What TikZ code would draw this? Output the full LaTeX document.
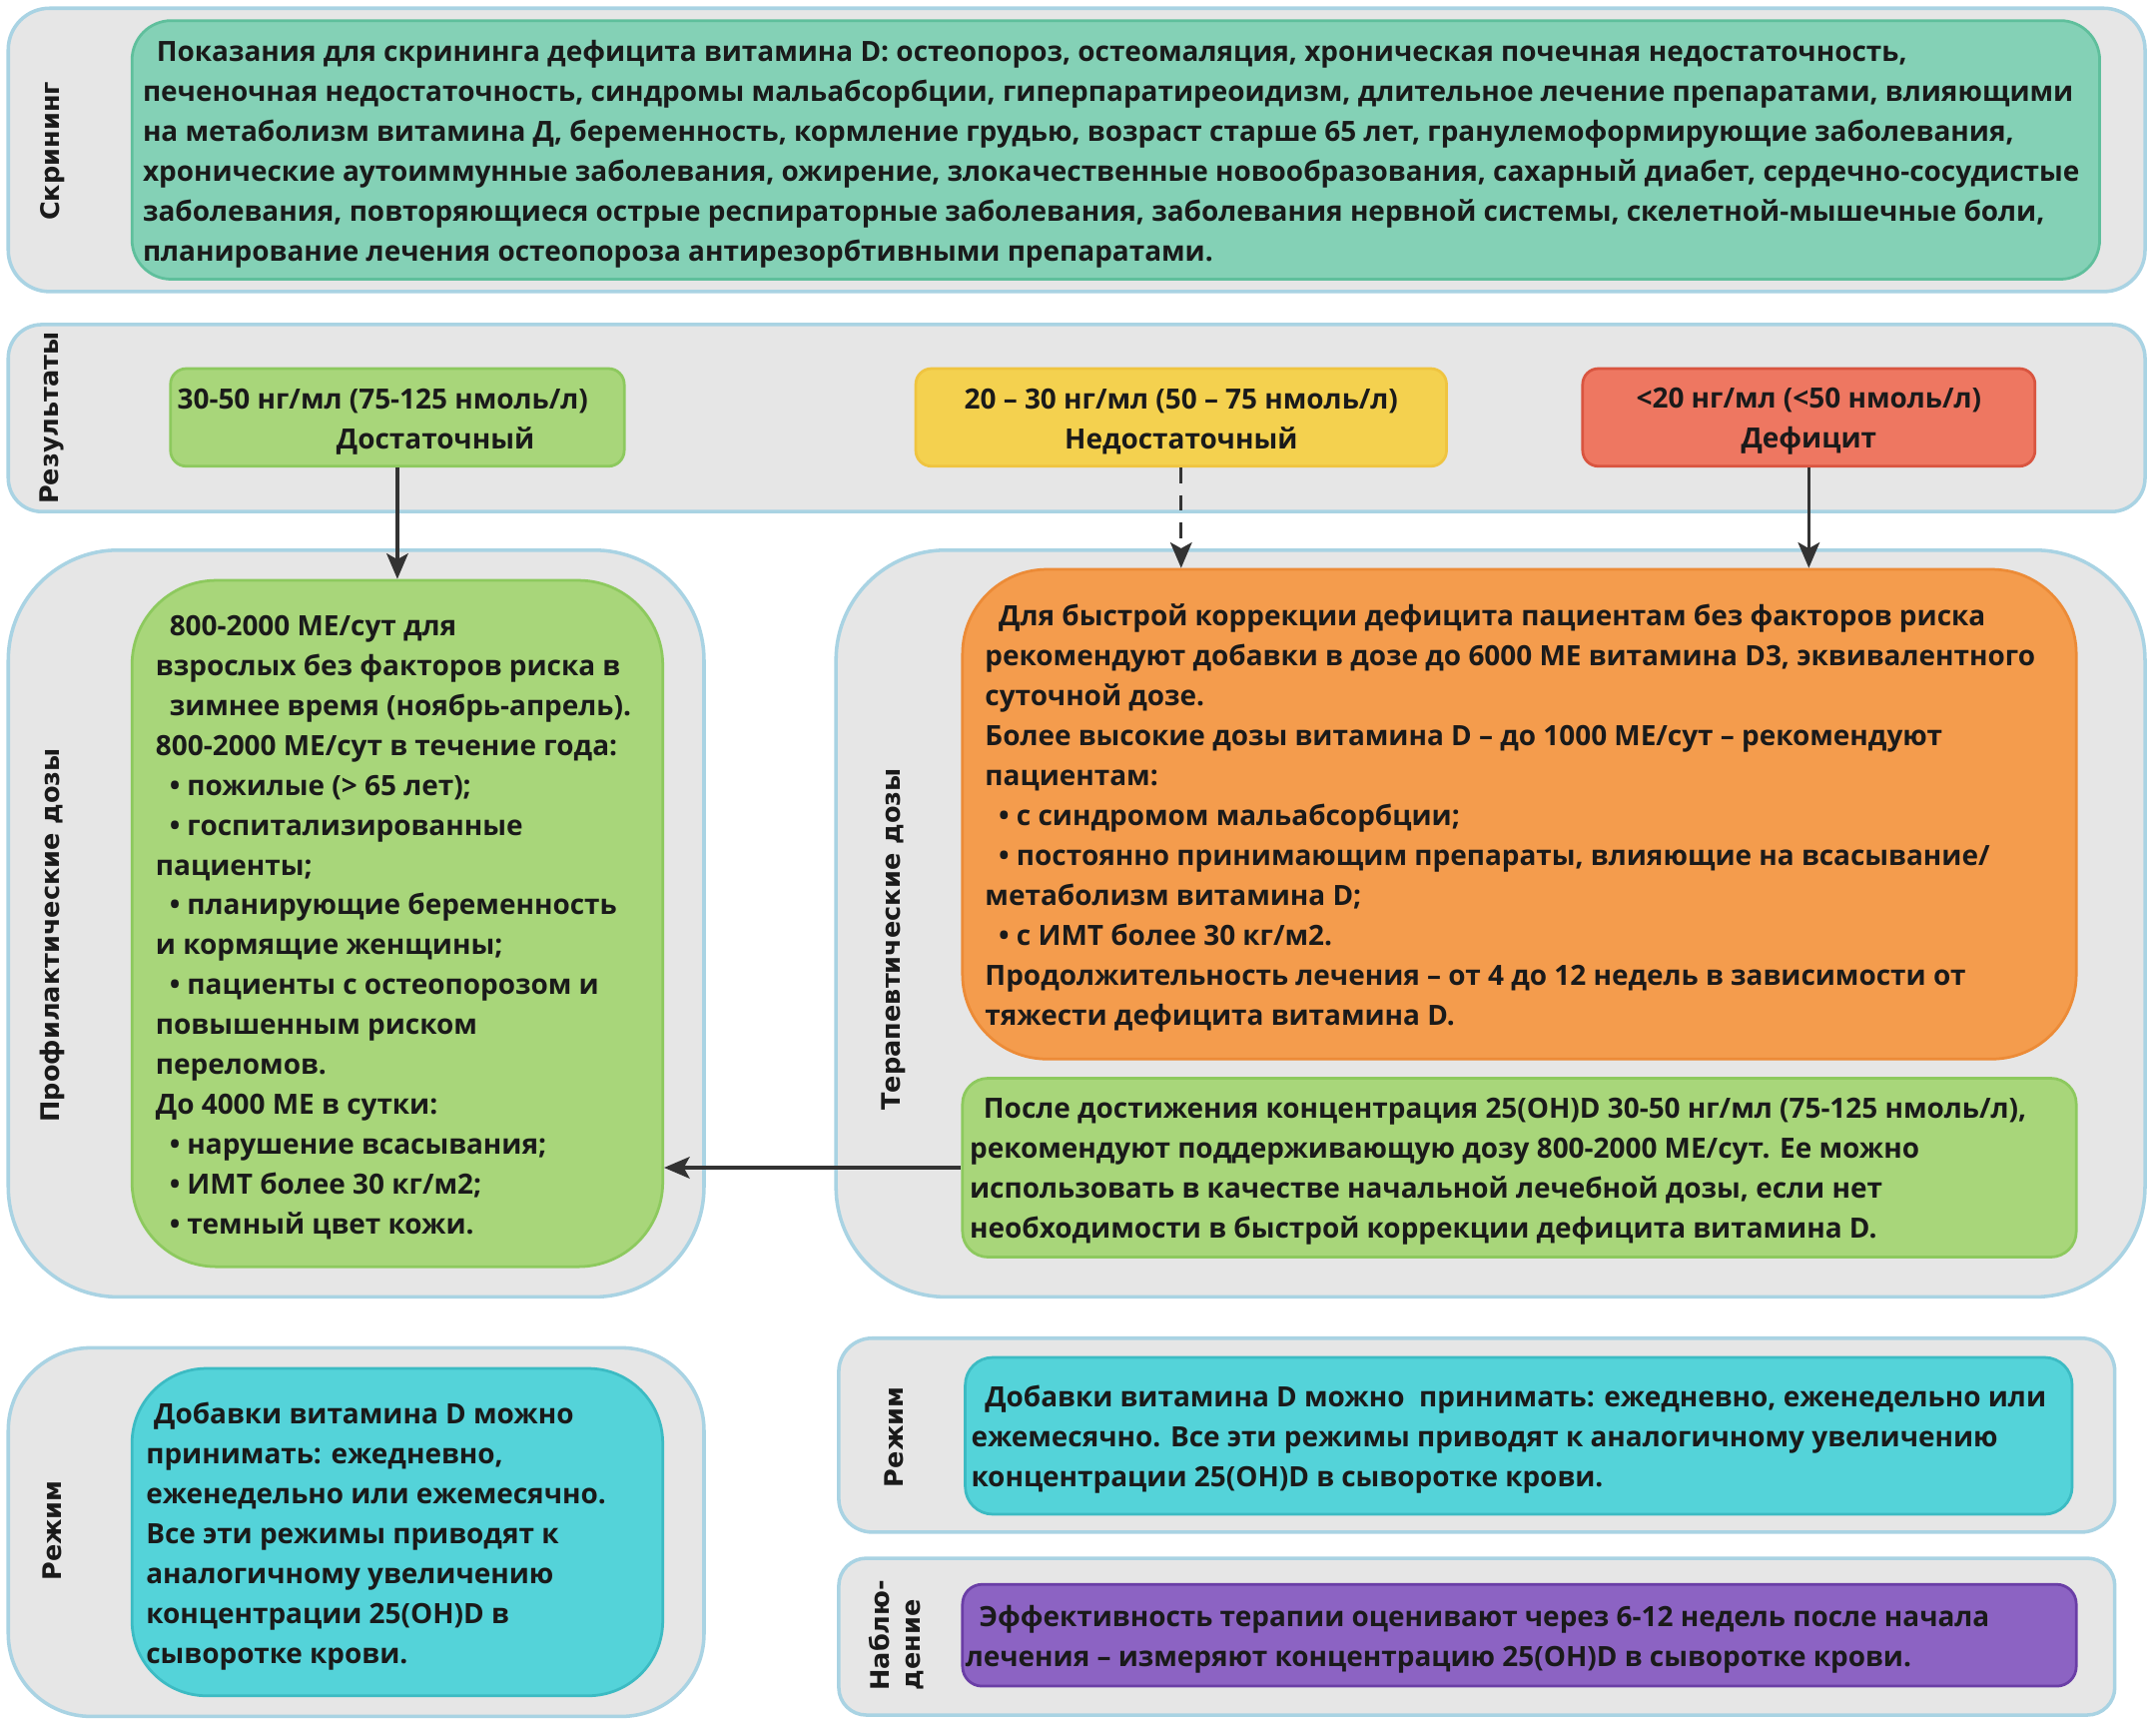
\documentclass[tikz,border=0pt]{standalone}
\usepackage{fontspec}
\newfontfamily\bodyfam{Open Sans}
\newfontfamily\tagfam{DejaVu Sans}
\usetikzlibrary{arrows.meta,fit,positioning}
\definecolor{grpfill}{HTML}{E6E6E6}
\definecolor{grpline}{HTML}{A9D3E3}
\definecolor{scrfill}{HTML}{84D1B6}
\definecolor{scrline}{HTML}{5FBF9C}
\definecolor{okfill}{HTML}{A8D67A}
\definecolor{okline}{HTML}{8DC95E}
\definecolor{lowfill}{HTML}{F4D14F}
\definecolor{lowline}{HTML}{EFC440}
\definecolor{deffill}{HTML}{EE7761}
\definecolor{defline}{HTML}{D95540}
\definecolor{orgfill}{HTML}{F49C4D}
\definecolor{orgline}{HTML}{EC8B37}
\definecolor{cyanfill}{HTML}{54D3D9}
\definecolor{cyanline}{HTML}{3CBBC3}
\definecolor{purfill}{HTML}{8C63C3}
\definecolor{purline}{HTML}{6A3EA6}
\definecolor{ink}{HTML}{1A1A1A}
\definecolor{arr}{HTML}{333333}
\newcommand\indsp{\hspace*{7pt}}
\tikzset{%
	group/.style = {draw=grpline, fill=grpfill, line width=1.8pt, inner sep=0pt}, % outer panel
	card/.style  = {line width=1.4pt, inner sep=0pt}, % coloured box
	txt/.style   = {font=\bodyfam\bfseries\fontsize{14.2}{20.3}\selectfont, text=ink, align=left, inner sep=0pt, yshift=-2pt},
	tag/.style   = {font=\tagfam\bfseries\fontsize{13}{16}\selectfont, text=ink, rotate=90, inner sep=0pt}, % side label
	arrow/.style = {draw=arr, line width=1.6pt, -{Stealth[length=13pt,width=11pt,inset=3pt]}},
}

\begin{document}
\begin{tikzpicture}[x=0.7pt,y=-0.7pt]
	\useasboundingbox (0,0) rectangle (1568,1255.7);

	% screening
	\node [group, rounded corners=21pt, fit={(6,6)(1560,212)}] (scrG) {};
	\node [card, draw=scrline, fill=scrfill, rounded corners=20pt, fit={(96,15)(1527,203)}] (scrC) {};
	\node [tag] (scrT) at (38,110) {Скрининг};
	\node [txt, right=6pt of scrC.west] (scrX) {\indsp Показания для скрининга дефицита витамина D: остеопороз, остеомаляция, хроническая почечная недостаточность,\\
	печеночная недостаточность, синдромы мальабсорбции, гиперпаратиреоидизм, длительное лечение препаратами, влияющими\\
	на метаболизм витамина Д, беременность, кормление грудью, возраст старше 65 лет, гранулемоформирующие заболевания,\\
	хронические аутоиммунные заболевания, ожирение, злокачественные новообразования, сахарный диабет, сердечно-сосудистые\\
	заболевания, повторяющиеся острые респираторные заболевания, заболевания нервной системы, скелетной-мышечные боли,\\
	планирование лечения остеопороза антирезорбтивными препаратами.};

	% results
	\node [group, rounded corners=17pt, fit={(6,236)(1560,372)}] (resG) {};
	\node [tag] (resT) at (38,304) {Результаты};
	\node [card, draw=okline, fill=okfill, rounded corners=8pt, fit={(124,268)(454,339)}] (okC) {};
	\node [card, draw=lowline, fill=lowfill, rounded corners=8pt, fit={(666,268)(1052,339)}] (lowC) {};
	\node [card, draw=defline, fill=deffill, rounded corners=8pt, fit={(1151,268)(1480,339)}] (defC) {};
	\node [txt, right=4pt of okC.west] (okX) {30-50 нг/мл (75-125 нмоль/л)\\\hspace*{81pt}Достаточный};
	\node [txt, align=center] (lowX) at (lowC) {20 – 30 нг/мл (50 – 75 нмоль/л)\\Недостаточный};
	\node [txt, align=center] (defX) at (defC) {<20 нг/мл (<50 нмоль/л)\\Дефицит};

	% prophylactic doses
	\node [group, rounded corners=56pt, fit={(6,400)(512,943)}] (proG) {};
	\node [card, draw=okline, fill=okfill, rounded corners=43pt, fit={(96,422)(482,921)}] (proC) {};
	\node [tag] (proT) at (38,680) {Профилактические дозы};
	\node [txt, right=12.6pt of proC.west] (proX) {\indsp 800-2000 МЕ/сут для\\
	взрослых без факторов риска в\\
	\indsp зимнее время (ноябрь-апрель).\\
	800-2000 МЕ/сут в течение года:\\
	\indsp • пожилые (> 65 лет);\\
	\indsp • госпитализированные\\
	пациенты;\\
	\indsp • планирующие беременность\\
	и кормящие женщины;\\
	\indsp • пациенты с остеопорозом и\\
	повышенным риском\\
	переломов.\\
	До 4000 МЕ в сутки:\\
	\indsp • нарушение всасывания;\\
	\indsp • ИМТ более 30 кг/м2;\\
	\indsp • темный цвет кожи.};

	% therapeutic doses
	\node [group, rounded corners=56pt, fit={(608,400)(1560,943)}] (therG) {};
	\node [card, draw=orgline, fill=orgfill, rounded corners=43pt, fit={(700,414)(1510,770)}] (therC) {};
	\node [card, draw=okline, fill=okfill, rounded corners=13pt, fit={(700,784)(1510,914)}] (keepC) {};
	\node [tag] (therT) at (650,683) {Терапевтические дозы};
	\node [txt, right=12pt of therC.west] (therX) {\indsp Для быстрой коррекции дефицита пациентам без факторов риска\\
	рекомендуют добавки в дозе до 6000 МЕ витамина D3, эквивалентного\\
	суточной дозе.\\
	Более высокие дозы витамина D – до 1000 МЕ/сут – рекомендуют\\
	пациентам:\\
	\indsp • с синдромом мальабсорбции;\\
	\indsp • постоянно принимающим препараты, влияющие на всасывание/\\
	метаболизм витамина D;\\
	\indsp • с ИМТ более 30 кг/м2.\\
	Продолжительность лечения – от 4 до 12 недель в зависимости от\\
	тяжести дефицита витамина D.};
	\node [txt, right=4.2pt of keepC.west] (keepX) {\indsp После достижения концентрация 25(OH)D 30-50 нг/мл (75-125 нмоль/л),\\
	рекомендуют поддерживающую дозу 800-2000 МЕ/сут. Ее можно\\
	использовать в качестве начальной лечебной дозы, если нет\\
	необходимости в быстрой коррекции дефицита витамина D.};

	% regime, left
	\node [group, rounded corners=42pt, fit={(6,980)(512,1248)}] (regLG) {};
	\node [card, draw=cyanline, fill=cyanfill, rounded corners=38pt, fit={(96,995)(482,1233)}] (regLC) {};
	\node [tag] (regLT) at (38,1113) {Режим};
	\node [txt, right=7.7pt of regLC.west] (regLX) {\hspace*{4pt}Добавки витамина D можно\\
	принимать: ежедневно,\\
	еженедельно или ежемесячно.\\
	Все эти режимы приводят к\\
	аналогичному увеличению\\
	концентрации 25(OH)D в\\
	сыворотке крови.};

	% regime, right
	\node [group, rounded corners=17pt, fit={(610,973)(1538,1114)}] (regRG) {};
	\node [card, draw=cyanline, fill=cyanfill, rounded corners=14pt, fit={(702,987)(1507,1101)}] (regRC) {};
	\node [tag] (regRT) at (650,1045) {Режим};
	\node [txt, right=3.5pt of regRC.west] (regRX) {\indsp Добавки витамина D можно\ \ принимать: ежедневно, еженедельно или\\
	ежемесячно. Все эти режимы приводят к аналогичному увеличению\\
	концентрации 25(OH)D в сыворотке крови.};

	% monitoring
	\node [group, rounded corners=14pt, fit={(610,1133)(1538,1247)}] (monG) {};
	\node [card, draw=purline, fill=purfill, rounded corners=10pt, fit={(700,1152)(1510,1226)}] (monC) {};
	\node [tag, align=left] (monT) at (652,1189) {Наблю-\\дение};
	\node [txt, right=2pt of monC.west] (monX) {\indsp Эффективность терапии оценивают через 6-12 недель после начала\\
	лечения – измеряют концентрацию 25(OH)D в сыворотке крови.};

	\draw[arrow] (okC.south) -- (okC.south |- proC.north);
	\draw[arrow, dash pattern=on 8pt off 6pt] (lowC.south) -- (lowC.south |- therC.north);
	\draw[arrow] (defC.south) -- (defC.south |- therC.north);
	\draw[arrow] (keepC.west) -- (keepC.west -| proC.east);
\end{tikzpicture}
\end{document}
